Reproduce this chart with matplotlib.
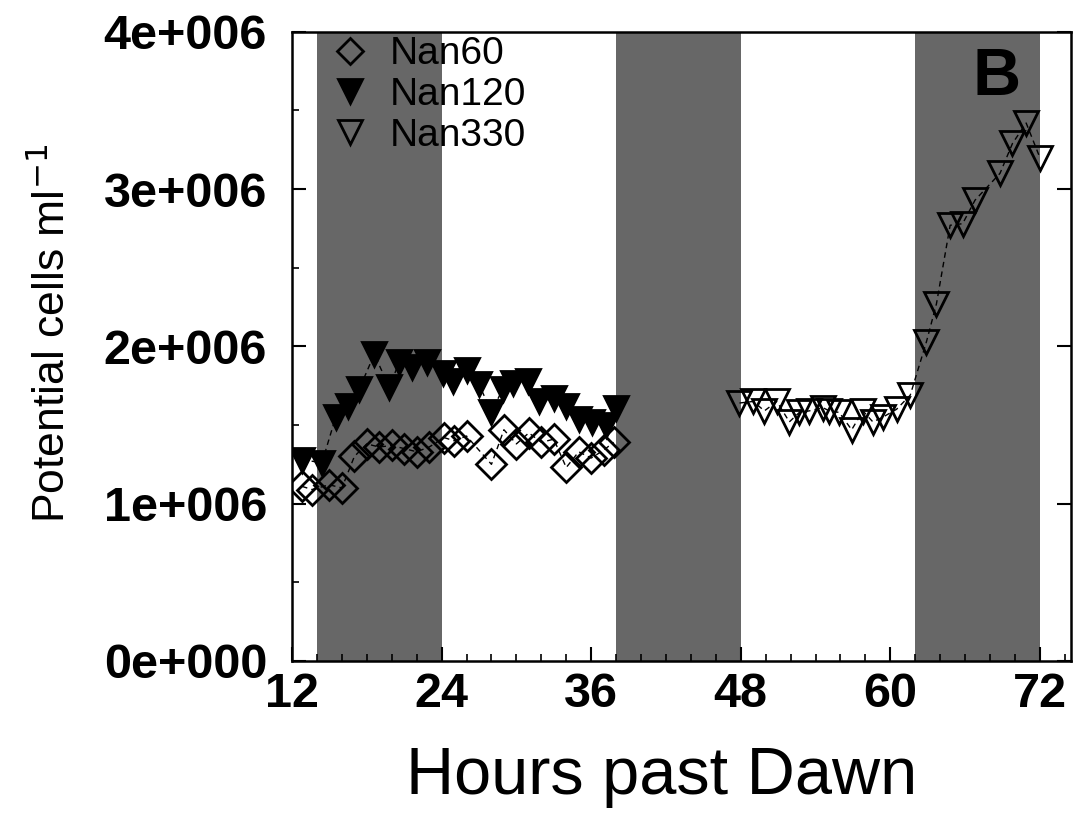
import matplotlib
matplotlib.use("Agg")
import matplotlib.pyplot as plt
from matplotlib.lines import Line2D
from matplotlib.ticker import MultipleLocator, FixedLocator, FixedFormatter

plt.rcParams['font.family'] = ['Liberation Sans', 'DejaVu Sans']

# Nan60 (open diamonds)
nan60_h = [12.8, 13.6, 15, 16, 17, 18, 19, 20, 21, 22, 23, 24.2, 25, 26,
           28, 29, 30, 31, 32, 33, 34, 35, 36, 37, 37.8]
nan60_v = [1.11, 1.09, 1.12, 1.10, 1.30, 1.38, 1.36, 1.37, 1.35, 1.33, 1.36,
           1.42, 1.40, 1.43, 1.25, 1.47, 1.38, 1.45, 1.39, 1.41, 1.23, 1.33,
           1.29, 1.34, 1.39]

# Nan120 (filled down triangles)
nan120_h = [12.8, 14.4, 15.5, 16.5, 17.4, 18.6, 19.8, 20.6, 21.6, 22.8, 24.1,
            24.9, 26, 27, 28, 28.9, 29.7, 30.9, 31.8, 33, 34, 35, 36.1, 37.2, 38]
nan120_v = [1.28, 1.26, 1.55, 1.62, 1.73, 1.95, 1.74, 1.90, 1.87, 1.90, 1.83,
            1.78, 1.85, 1.76, 1.58, 1.73, 1.77, 1.78, 1.65, 1.67, 1.62, 1.54,
            1.52, 1.50, 1.61]

# Nan330 (open down triangles)
nan330_h = [47.9, 49, 49.9, 50.9, 51.9, 52.7, 53.5, 54.6, 55.1, 55.9, 56.9,
            57.8, 58.6, 59.4, 60.5, 61.6, 62.9, 63.7, 64.8, 65.8, 66.8, 68.8,
            69.8, 70.9, 72]
nan330_v = [1.64, 1.65, 1.59, 1.65, 1.52, 1.58, 1.59, 1.61, 1.59, 1.58, 1.47,
            1.59, 1.52, 1.55, 1.60, 1.69, 2.03, 2.27, 2.77, 2.78, 2.93, 3.10,
            3.29, 3.42, 3.20]

dark_periods = [(14, 24), (38, 48), (62, 72)]

y_ticks = [0, 1e6, 2e6, 3e6, 4e6]
y_labels = ["0e+000", "1e+006", "2e+006", "3e+006", "4e+006"]
x_ticks = [12, 24, 36, 48, 60, 72]

fig = plt.figure(figsize=(10.76, 8.15), dpi=100)
ax = fig.add_axes([0.2714, 0.189, 0.7240, 0.7720])

# night shading
for start, end in dark_periods:
    ax.axvspan(start, end, color="#676767", lw=0, zorder=0)

line_kw = dict(color="black", lw=1, ls=(0, (4, 3)), mew=2)
ax.plot(nan60_h, [v * 1e6 for v in nan60_v], marker="D", ms=15, mfc="none",
        mec="black", zorder=3, **line_kw)
ax.plot(nan120_h, [v * 1e6 for v in nan120_v], marker="v", ms=17, mfc="black",
        mec="black", zorder=4, **line_kw)
ax.plot(nan330_h, [v * 1e6 for v in nan330_v], marker="v", ms=17, mfc="none",
        mec="black", zorder=4, **line_kw)

ax.set_xlim(12, 74.5)
ax.set_ylim(0, 4.0e6)

ax.xaxis.set_major_locator(FixedLocator(x_ticks))
ax.xaxis.set_minor_locator(MultipleLocator(2))
ax.yaxis.set_major_locator(FixedLocator(y_ticks))
ax.yaxis.set_major_formatter(FixedFormatter(y_labels))
ax.yaxis.set_minor_locator(MultipleLocator(0.5e6))

ax.tick_params(which="major", direction="in", length=10, width=1.5,
               labelsize=35, right=True)
ax.tick_params(which="minor", direction="in", length=5, width=1.2)
ax.tick_params(axis="y", pad=18)
ax.tick_params(axis="x", pad=8)
for lab in ax.get_xticklabels() + ax.get_yticklabels():
    lab.set_fontweight("bold")

for sp in ax.spines.values():
    sp.set_linewidth(1.8)

ax.set_xlabel("Hours past Dawn", fontsize=48)
ax.xaxis.set_label_coords(0.475, -0.135)
ax.set_ylabel("Potential cells ml$^{-1}$", fontsize=32)
ax.yaxis.set_label_coords(-0.28, 0.52)

ax.text(0.935, 0.90, "B", transform=ax.transAxes, fontsize=48,
        fontweight="bold", ha="right", va="baseline")

handles = [
    Line2D([], [], ls="none", marker="D", ms=13, mfc="none", mec="black", mew=2),
    Line2D([], [], ls="none", marker="v", ms=17, mfc="black", mec="black", mew=2),
    Line2D([], [], ls="none", marker="v", ms=17, mfc="none", mec="black", mew=2),
]
ax.legend(handles, ["Nan60", "Nan120", "Nan330"], loc="upper left",
          frameon=False, fontsize=28, bbox_to_anchor=(0.02, 1.03),
          handlelength=1.0, handletextpad=0.5, labelspacing=0.12,
          borderaxespad=0.2)

fig.savefig("out.png", dpi=100)
